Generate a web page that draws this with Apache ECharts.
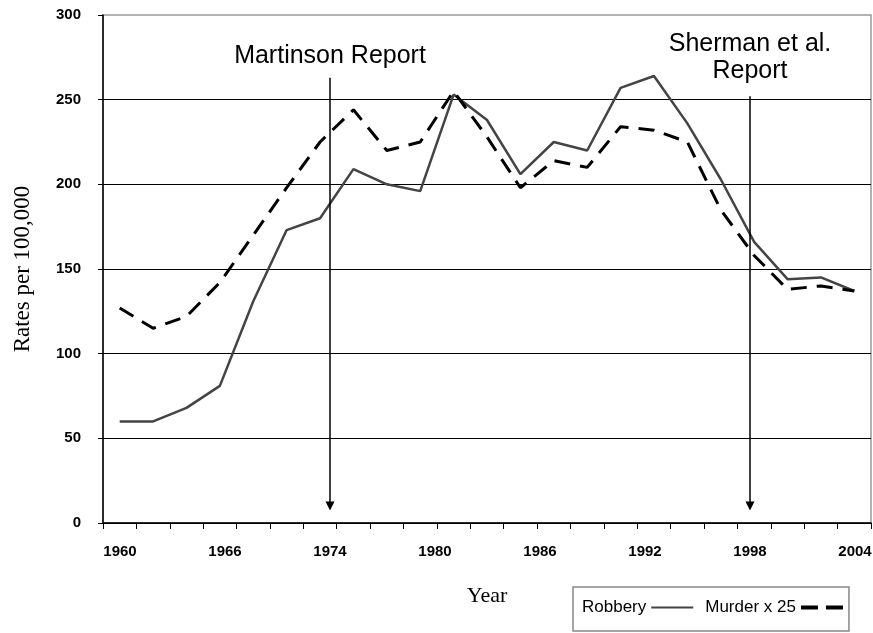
<!DOCTYPE html>
<html>
<head>
<meta charset="utf-8">
<script src="https://cdn.jsdelivr.net/npm/echarts@6/dist/echarts.min.js"></script>
<style>
html,body{margin:0;padding:0;background:#fff;}
#chart{width:873px;height:633px;}
</style>
</head>
<body>
<div id="chart"></div>
<script>
// ---- data ----
const years = ['1960','1962','1964','1966','1968','1970','1972','1974','1976','1978','1980','1982',
               '1984','1986','1988','1990','1992','1994','1996','1998','2000','2002','2004'];
const robbery = [60, 60, 68, 81, 131, 173, 180, 209, 200, 196, 253, 238,
                 206, 225, 220, 257, 264, 236, 203, 166, 144, 145, 137];
const murderX25 = [127, 115, 122, 142, 170, 198, 225, 244, 220, 225, 255, 228,
                   198, 214, 210, 234, 232, 225, 185, 158, 138, 140, 137];
const tickLabels = ['1960','1966','1974','1980','1986','1992','1998','2004'];
const reportNames = ['Martinson Report', 'Sherman et al.\nReport'];
const reportYears = ['1974', '1998'];
const reportTop = [263, 252];
const reportBottom = [10, 10];

const FONT = 'Liberation Sans, Arial, sans-serif';
const SERIF = 'Liberation Serif, Times New Roman, serif';

const chart = echarts.init(document.getElementById('chart'), null, {renderer: 'canvas'});

const markData = reportYears.map((yr, i) => [
  {coord: [yr, reportTop[i]], label: {formatter: reportNames[i], distance: i === 0 ? 8 : 12}},
  {coord: [yr, reportBottom[i]]}
]);

chart.setOption({
  backgroundColor: '#fff',
  animation: false,
  grid: [
    {left: 103, right: 2, top: 15, bottom: 110, show: true, borderColor: '#999', borderWidth: 1.5,
     backgroundColor: '#fff', outerBoundsMode: 'none', containLabel: false},
    {left: 120, right: 18, top: 15, bottom: 110, show: false, outerBoundsMode: 'none', containLabel: false}
  ],
  legend: {
    left: 573, top: 587, width: 295,
    orient: 'horizontal',
    align: 'right',
    itemWidth: 42, itemHeight: 14, itemGap: 12,
    padding: [12, 6, 15, 9],
    borderColor: '#888', borderWidth: 1.5,
    textStyle: {fontFamily: FONT, fontSize: 17, color: '#000'},
    data: [
      {name: 'Robbery', icon: 'path://M0,0H38V2H0Z'},
      {name: 'Murder x 25', icon: 'path://M0,0H17V4H0Z M25,0H42V4H25Z'}
    ]
  },
  xAxis: [
    {
      type: 'category', gridIndex: 0, data: years, boundaryGap: true,
      name: 'Year', nameLocation: 'middle', nameGap: 62,
      nameTextStyle: {fontFamily: SERIF, fontSize: 22, color: '#000'},
      axisLine: {lineStyle: {color: '#000', width: 1.5}},
      axisTick: {show: true, interval: 0, length: 6, lineStyle: {color: '#000', width: 1}},
      axisLabel: {show: false},
      splitLine: {show: false}
    },
    {
      type: 'category', gridIndex: 1, data: tickLabels, boundaryGap: false,
      axisLine: {show: false}, axisTick: {show: false},
      axisLabel: {show: true, interval: 0, margin: 21, fontFamily: FONT, fontSize: 15, fontWeight: 'bold', color: '#000'},
      splitLine: {show: false}
    }
  ],
  yAxis: [
    {
      type: 'value', gridIndex: 0, min: 0, max: 300, interval: 50,
      name: 'Rates per 100,000', nameLocation: 'middle', nameGap: 69, nameRotate: 90,
      nameTextStyle: {fontFamily: SERIF, fontSize: 23, color: '#000'},
      axisLine: {show: true, lineStyle: {color: '#000', width: 1.5}},
      axisTick: {show: true, length: 5, lineStyle: {color: '#000'}},
      axisLabel: {margin: 22, fontFamily: FONT, fontSize: 15, fontWeight: 'bold', color: '#000'},
      splitLine: {show: true, showMaxLine: false, lineStyle: {color: '#000', width: 1.2}}
    },
    {
      type: 'value', gridIndex: 1, min: 0, max: 300, interval: 50, show: false
    }
  ],
  series: [
    {
      name: 'Robbery', type: 'line', xAxisIndex: 0, yAxisIndex: 0,
      data: robbery, symbol: 'none', smooth: false,
      itemStyle: {color: '#444'},
      lineStyle: {color: '#444', width: 2.5, type: 'solid'},
      z: 3
    },
    {
      name: 'Murder x 25', type: 'line', xAxisIndex: 0, yAxisIndex: 0,
      data: murderX25, symbol: 'none', smooth: false,
      itemStyle: {color: '#000'},
      lineStyle: {color: '#000', width: 3, type: [16, 10]},
      z: 4
    },
    {
      name: 'reports', type: 'line', xAxisIndex: 1, yAxisIndex: 1,
      data: tickLabels.map(() => null), symbol: 'none',
      markLine: {
        silent: true,
        symbol: ['none', 'triangle'],
        symbolSize: [9, 9],
        lineStyle: {color: '#000', width: 1.5, type: 'solid'},
        label: {show: true, position: 'start', fontFamily: FONT, fontSize: 25, color: '#000', lineHeight: 27, align: 'center'},
        data: markData
      },
      z: 5
    }
  ]
});
</script>
</body>
</html>
